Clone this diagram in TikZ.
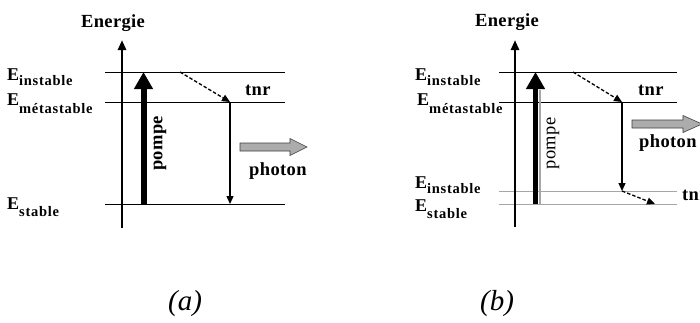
\documentclass[tikz,border=0pt]{standalone}
\usepackage{fontspec}
\setmainfont{Liberation Serif}
\newfontfamily\lsf{Liberation Serif}[LetterSpace=2]
\newfontfamily\lss{Liberation Serif}[LetterSpace=5]
\usetikzlibrary{arrows.meta}
\newcommand{\Ebig}{\lsf\bfseries\fontsize{18}{18}\selectfont}
\newcommand{\Esub}{\lss\bfseries\fontsize{14.5}{14.5}\selectfont}
\newcommand{\Elab}[2]{{\Ebig E}\raisebox{-#2}{\Esub #1}}
\tikzset{
  level/.style={line width=0.9pt},
  levelg/.style={line width=0.9pt, draw=gray!70},
  axis/.style={line width=2.6pt, -{Triangle[width=8pt,length=10pt]}},
  pump/.style={line width=6pt, -{Triangle[width=18pt,length=17pt]}},
  dasharrow/.style={line width=1.3pt, dash pattern=on 3.5pt off 2pt, -{Triangle[width=7pt,length=8pt]}},
  emit/.style={line width=1.3pt, -{Triangle[width=7pt,length=8pt]}},
  photonarrow/.style={fill=gray!65, draw=gray!50!black, line width=0.6pt},
  txt/.style={inner sep=0pt, font=\lsf\bfseries\fontsize{18.5}{18.5}\selectfont},
  elab/.style={inner sep=0pt, anchor=base west},
  captxt/.style={inner sep=0pt, font=\itshape\fontsize{29}{29}\selectfont}
}
\begin{document}
\begin{tikzpicture}[x=1pt,y=-1pt]
\useasboundingbox (0,0) rectangle (700,322);
\fill[white] (0,0) rectangle (700,322);
\begin{scope}
\clip (0,0) rectangle (700,322);
% ---------------- panel (a) ----------------
\coordinate (ail) at (105,72);  \coordinate (air) at (285,72);
\coordinate (aml) at (105,102); \coordinate (amr) at (285,102);
\coordinate (asl) at (105,204); \coordinate (asr) at (285,204);
\draw[level] (ail) -- (air);
\draw[level] (aml) -- (amr);
\draw[level] (asl) -- (asr);
\coordinate (aax0) at (122,228); \coordinate (aax1) at (122,40);
\draw[axis] (aax0) -- (aax1);
\coordinate (ap0) at (143.5,204); \coordinate (ap1) at (143.5,72);
\draw[pump] (ap0) -- (ap1);
\coordinate (ad0) at (180,72); \coordinate (ad1) at (230,102); \coordinate (ae1) at (230,204);
\draw[dasharrow] (ad0) -- (ad1);
\draw[emit] (ad1) -- (ae1);
\draw[photonarrow] (240,143) -- (290,143) -- (290,138.5) -- (307,147) -- (290,155.5) -- (290,151) -- (240,151) -- cycle;
\node[txt, anchor=base] (aenergie) at (113,27) {Energie};
\node[txt, anchor=base west] (atnr) at (245,95) {tnr};
\node[txt, anchor=base west] (aphoton) at (249,175) {photon};
\node[txt, rotate=90] (apompe) at (160,143.5) {pompe};
\node[elab] (aEi) at (7,80) {\Elab{instable}{5pt}};
\node[elab] (aEm) at (7,105) {\Elab{métastable}{8pt}};
\node[elab] (aEs) at (7,209) {\Elab{stable}{7pt}};
\node[captxt] (acap) at (185,304) {(a)};
% ---------------- panel (b) ----------------
\coordinate (bil) at (499,72);  \coordinate (bir) at (677,72);
\coordinate (bml) at (499,102); \coordinate (bmr) at (677,102);
\coordinate (bjl) at (499,191); \coordinate (bjr) at (677,191);
\coordinate (bsl) at (499,204); \coordinate (bsr) at (677,204);
\draw[level] (bil) -- (bir);
\draw[level] (bml) -- (bmr);
\draw[levelg] (bjl) -- (bjr);
\draw[levelg] (bsl) -- (bsr);
\coordinate (bax0) at (515,227); \coordinate (bax1) at (515,40);
\draw[axis] (bax0) -- (bax1);
\coordinate (bg0) at (540,204); \coordinate (bg1) at (540,90);
\draw[line width=1.5pt, gray!70] (bg0) -- (bg1);
\coordinate (bp0) at (535.5,204); \coordinate (bp1) at (535.5,72);
\draw[pump, line width=5pt] (bp0) -- (bp1);
\coordinate (bd0) at (573,72); \coordinate (bd1) at (622,102); \coordinate (be1) at (622,191);
\coordinate (bf1) at (655,204);
\draw[dasharrow] (bd0) -- (bd1);
\draw[emit] (bd1) -- (be1);
\draw[dasharrow] (be1) -- (bf1);
\draw[photonarrow] (632,120) -- (683,120) -- (683,115.5) -- (702,124) -- (683,132.5) -- (683,128) -- (632,128) -- cycle;
\node[txt, anchor=base] (benergie) at (507,26) {Energie};
\node[txt, anchor=base west] (btnr) at (638,95) {tnr};
\node[txt, anchor=base west] (bphoton) at (639,147) {photon};
\node[txt, anchor=base west] (btn) at (682,200) {tnr};
\node[txt, font=\lsf\fontsize{18.5}{18.5}\selectfont, rotate=90] (bpompe) at (553,143.5) {pompe};
\node[elab] (bEi) at (415,80) {\Elab{instable}{5pt}};
\node[elab] (bEm) at (417,105) {\Elab{métastable}{8pt}};
\node[elab] (bEj) at (415,188) {\Elab{instable}{5pt}};
\node[elab] (bEs) at (415,211) {\Elab{stable}{7pt}};
\node[captxt] (bcap) at (497,304) {(b)};
\end{scope}
\end{tikzpicture}
\end{document}
